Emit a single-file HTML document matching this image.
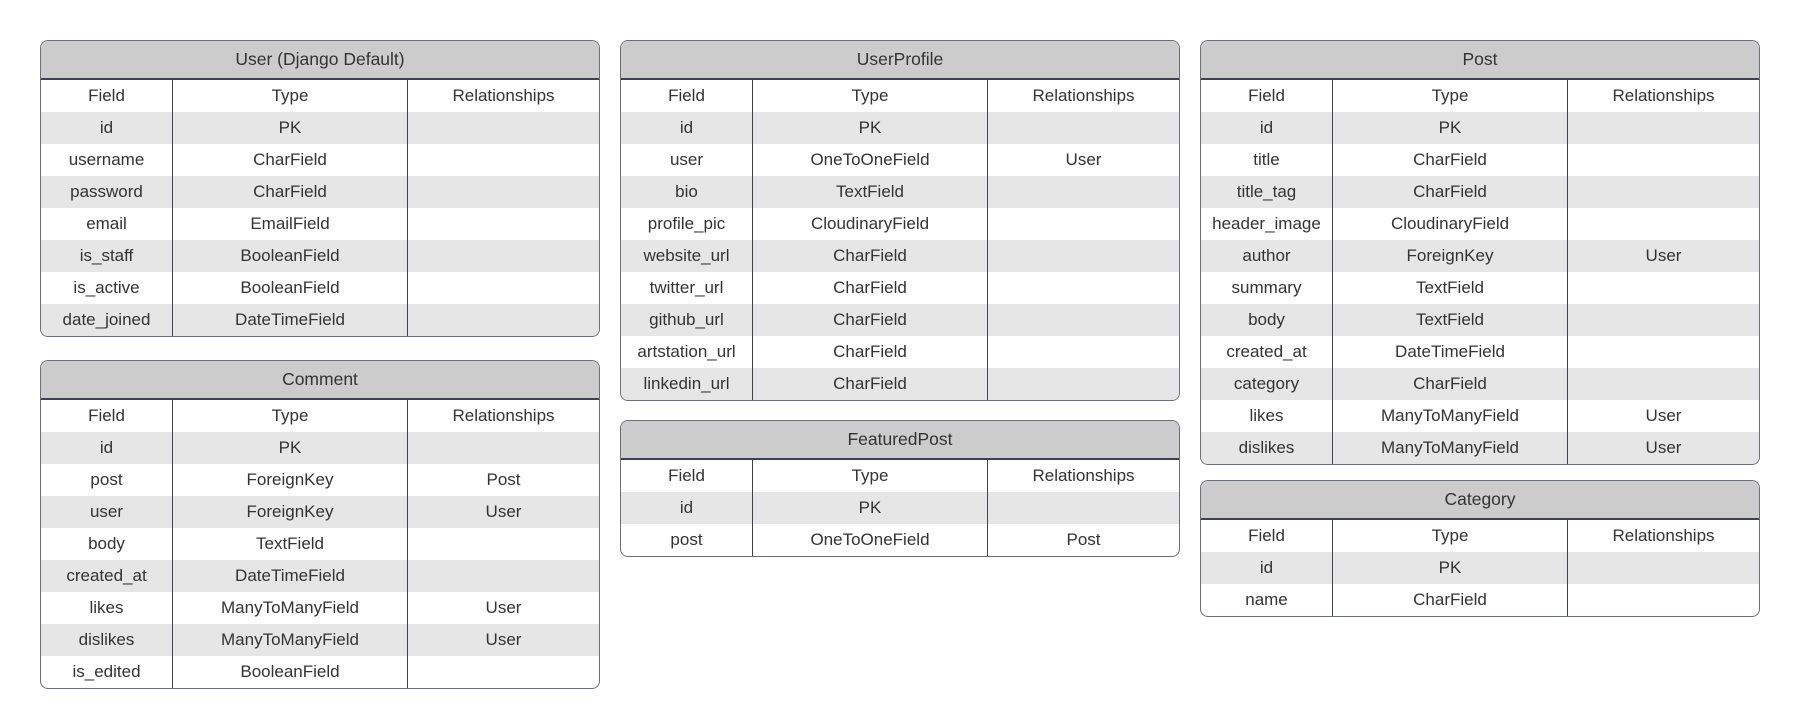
<!DOCTYPE html>
<html><head><meta charset="utf-8">
<style>
html,body{margin:0;padding:0;background:#fff;width:1800px;height:728px;overflow:hidden}
.t{position:absolute;width:558px;border:1px solid #6b6f78;border-radius:8px;overflow:hidden;background:#fff;font-family:"Liberation Sans",sans-serif;font-size:17px;color:#333}
.h{height:37px;line-height:37px;background:#cccccc;text-align:center;border-bottom:2px solid #3d4250;font-size:17.5px}
.r{display:flex;height:32px;line-height:32px}
.r:nth-child(odd){background:#e6e6e6}
.r div{text-align:center;white-space:nowrap}
.r div:nth-child(1){width:131px;border-right:1.5px solid #3d4250}
.r div:nth-child(2){width:234px;border-right:1.5px solid #3d4250}
.r div:nth-child(3){flex:1}
</style></head><body>

<div class="t" style="left:40px;top:40px">
<div class="h">User (Django Default)</div>
<div class="r"><div>Field</div><div>Type</div><div>Relationships</div></div>
<div class="r"><div>id</div><div>PK</div><div></div></div>
<div class="r"><div>username</div><div>CharField</div><div></div></div>
<div class="r"><div>password</div><div>CharField</div><div></div></div>
<div class="r"><div>email</div><div>EmailField</div><div></div></div>
<div class="r"><div>is_staff</div><div>BooleanField</div><div></div></div>
<div class="r"><div>is_active</div><div>BooleanField</div><div></div></div>
<div class="r"><div>date_joined</div><div>DateTimeField</div><div></div></div>
</div>

<div class="t" style="left:40px;top:360px">
<div class="h">Comment</div>
<div class="r"><div>Field</div><div>Type</div><div>Relationships</div></div>
<div class="r"><div>id</div><div>PK</div><div></div></div>
<div class="r"><div>post</div><div>ForeignKey</div><div>Post</div></div>
<div class="r"><div>user</div><div>ForeignKey</div><div>User</div></div>
<div class="r"><div>body</div><div>TextField</div><div></div></div>
<div class="r"><div>created_at</div><div>DateTimeField</div><div></div></div>
<div class="r"><div>likes</div><div>ManyToManyField</div><div>User</div></div>
<div class="r"><div>dislikes</div><div>ManyToManyField</div><div>User</div></div>
<div class="r"><div>is_edited</div><div>BooleanField</div><div></div></div>
</div>

<div class="t" style="left:620px;top:40px">
<div class="h">UserProfile</div>
<div class="r"><div>Field</div><div>Type</div><div>Relationships</div></div>
<div class="r"><div>id</div><div>PK</div><div></div></div>
<div class="r"><div>user</div><div>OneToOneField</div><div>User</div></div>
<div class="r"><div>bio</div><div>TextField</div><div></div></div>
<div class="r"><div>profile_pic</div><div>CloudinaryField</div><div></div></div>
<div class="r"><div>website_url</div><div>CharField</div><div></div></div>
<div class="r"><div>twitter_url</div><div>CharField</div><div></div></div>
<div class="r"><div>github_url</div><div>CharField</div><div></div></div>
<div class="r"><div>artstation_url</div><div>CharField</div><div></div></div>
<div class="r"><div>linkedin_url</div><div>CharField</div><div></div></div>
</div>

<div class="t" style="left:620px;top:420px">
<div class="h">FeaturedPost</div>
<div class="r"><div>Field</div><div>Type</div><div>Relationships</div></div>
<div class="r"><div>id</div><div>PK</div><div></div></div>
<div class="r"><div>post</div><div>OneToOneField</div><div>Post</div></div>
</div>

<div class="t" style="left:1200px;top:40px">
<div class="h">Post</div>
<div class="r"><div>Field</div><div>Type</div><div>Relationships</div></div>
<div class="r"><div>id</div><div>PK</div><div></div></div>
<div class="r"><div>title</div><div>CharField</div><div></div></div>
<div class="r"><div>title_tag</div><div>CharField</div><div></div></div>
<div class="r"><div>header_image</div><div>CloudinaryField</div><div></div></div>
<div class="r"><div>author</div><div>ForeignKey</div><div>User</div></div>
<div class="r"><div>summary</div><div>TextField</div><div></div></div>
<div class="r"><div>body</div><div>TextField</div><div></div></div>
<div class="r"><div>created_at</div><div>DateTimeField</div><div></div></div>
<div class="r"><div>category</div><div>CharField</div><div></div></div>
<div class="r"><div>likes</div><div>ManyToManyField</div><div>User</div></div>
<div class="r"><div>dislikes</div><div>ManyToManyField</div><div>User</div></div>
</div>

<div class="t" style="left:1200px;top:480px">
<div class="h">Category</div>
<div class="r"><div>Field</div><div>Type</div><div>Relationships</div></div>
<div class="r"><div>id</div><div>PK</div><div></div></div>
<div class="r"><div>name</div><div>CharField</div><div></div></div>
</div>

</body></html>
